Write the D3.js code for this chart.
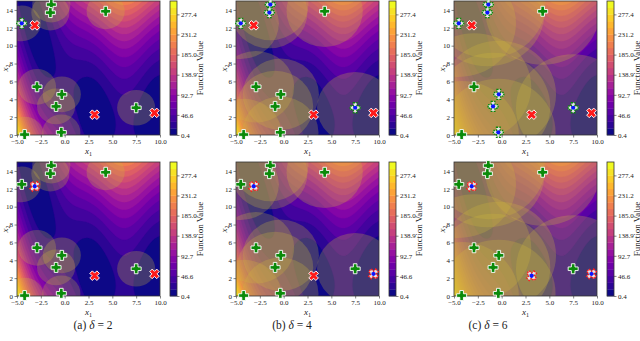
<!DOCTYPE html>
<html>
<head>
<meta charset="utf-8">
<script src="https://cdn.jsdelivr.net/npm/d3@7"></script>
<style>
  body { margin: 0; background: #fff; }
  text { font-family: "Liberation Serif", "DejaVu Serif", serif; fill: #222; }
</style>
</head>
<body>
<div class="chart"></div>
<script>
// panel settings
var deltas = [2, 4, 6];
var panelLetters = ["(a)", "(b)", "(c)"];

// sampled points (green plus markers)
var sampleX1 = [-1.4, -1.5, 4.3, -4.5, -2.9, -0.3, -0.9, -4.2, -0.35, 7.5];
var sampleX2 = [14.6, 13.7, 13.85, 12.5, 5.4, 4.55, 3.2, 0.05, 0.3, 3.05];

// global minima (red X markers)
var minimaX1 = [-3.14, 3.14, 9.42];
var minimaX2 = [12.275, 2.275, 2.475];

// which markers get the blue centre, per column
var topHighlight = [[3], [0, 1, 3, 9], [0, 1, 3, 5, 6, 8, 9]];
var bottomHighlight = [[0], [0, 2], [0, 1, 2]];

// axes / colorbar ticks
var xTicks = [-5, -2.5, 0, 2.5, 5, 7.5, 10];
var yTicks = [0, 2, 4, 6, 8, 10, 12, 14];
var cbarTicks = [0.4, 46.6, 92.7, 138.9, 185.0, 231.2, 277.4];
var fMin = 0.3979, fMax = 308.13, nBands = 20;

// the plotted surface (Branin)
function branin(x1, x2) {
  var b = 5.1 / (4 * Math.PI * Math.PI), c = 5 / Math.PI, t = 1 / (8 * Math.PI);
  var q = x2 - b * x1 * x1 + c * x1 - 6;
  return q * q + 10 * (1 - t) * Math.cos(x1) + 10;
}

var svgWidth = 640, svgHeight = 341;
var svg = d3.select(".chart").append("svg")
  .attr("width", svgWidth).attr("height", svgHeight);

var colX = [17, 236, 454];
var rowY = [1, 162];
var pw = 143, ph = 134;

var levels = d3.range(nBands + 1).map(function(i) { return fMin + i * (fMax - fMin) / nBands; });
var bandColor = function(i) { return d3.interpolatePlasma(i / (nBands - 1)); };

// grid of values
var nx = 151, ny = 151;
var grid = new Array(nx * ny);
for (var j = 0; j < ny; j++) {
  for (var i = 0; i < nx; i++) {
    var gx1 = -5 + i * 15 / (nx - 1);
    var gx2 = 15 - j * 15 / (ny - 1);
    grid[j * nx + i] = branin(gx1, gx2);
  }
}
var contours = d3.contours().size([nx, ny]).thresholds(levels.slice(0, nBands))(grid);

function plusPath(h, t) {
  return "M" + (-t) + "," + (-h) + "H" + t + "V" + (-t) + "H" + h + "V" + t + "H" + t +
    "V" + h + "H" + (-t) + "V" + t + "H" + (-h) + "V" + (-t) + "H" + (-t) + "Z";
}

var clipId = 0;
function drawPanel(col, row) {
  var x0 = colX[col], y0 = rowY[row];
  var x = d3.scaleLinear().domain([-5, 10]).range([x0, x0 + pw]);
  var y = d3.scaleLinear().domain([0, 15]).range([y0 + ph, y0]);
  var delta = deltas[col];

  var id = "clip" + (clipId++);
  svg.append("clipPath").attr("id", id).append("rect")
    .attr("x", x0).attr("y", y0).attr("width", pw).attr("height", ph);

  var g = svg.append("g").attr("clip-path", "url(#" + id + ")");
  var proj = d3.geoTransform({
    point: function(gx, gy) {
      this.stream.point(x(-5 + (gx - 0.5) * 15 / (nx - 1)), y(15 - (gy - 0.5) * 15 / (ny - 1)));
    }
  });
  var path = d3.geoPath(proj);
  g.selectAll("path.band").data(contours).enter().append("path")
    .attr("class", "band")
    .attr("d", path)
    .attr("fill", function(d, i) { return bandColor(i); })
    .attr("stroke", function(d, i) { return bandColor(i); })
    .attr("stroke-width", 0.3);

  // trust-region circles
  g.selectAll("ellipse").data(d3.range(sampleX1.length)).enter().append("ellipse")
    .attr("cx", function(i) { return x(sampleX1[i]); })
    .attr("cy", function(i) { return y(sampleX2[i]); })
    .attr("rx", function() { return x(delta) - x(0); })
    .attr("ry", function() { return y(0) - y(delta); })
    .attr("fill", "#cfb83a")
    .attr("fill-opacity", 0.27);

  svg.append("rect").attr("x", x0).attr("y", y0).attr("width", pw).attr("height", ph)
    .attr("fill", "none").attr("stroke", "#333").attr("stroke-width", 0.8);

  // axes
  var xAxis = svg.append("g").attr("transform", "translate(0," + (y0 + ph) + ")")
    .call(d3.axisBottom(x).tickValues(xTicks).tickFormat(d3.format(".1f")).tickSize(2.5).tickPadding(1.5));
  var yAxis = svg.append("g").attr("transform", "translate(" + x0 + ",0)")
    .call(d3.axisLeft(y).tickValues(yTicks).tickFormat(d3.format("d")).tickSize(2.5).tickPadding(1.5));
  [xAxis, yAxis].forEach(function(a) {
    a.select(".domain").remove();
    a.selectAll("line").attr("stroke", "#333").attr("stroke-width", 0.6);
    a.selectAll("text").attr("font-size", 7).attr("fill", "#333")
      .style("font-family", "'Liberation Serif', serif");
  });
  xAxis.selectAll("text").text(function(d) { return d3.format(".1f")(d).replace("-", "\u2212"); });

  var xl = svg.append("text").attr("x", x0 + pw / 2).attr("y", y0 + ph + 19)
    .attr("text-anchor", "middle").attr("font-size", 9).style("font-style", "italic").text("x");
  xl.append("tspan").attr("font-size", 6).attr("dy", 2).style("font-style", "normal").text("1");
  var yl = svg.append("text").attr("transform", "translate(" + (x0 - 9.5) + "," + (y0 + ph / 2) + ") rotate(-90)")
    .attr("text-anchor", "middle").attr("font-size", 9).style("font-style", "italic").text("x");
  yl.append("tspan").attr("font-size", 6).attr("dy", 2).style("font-style", "normal").text("2");

  // colorbar
  var cx = x0 + pw + 10, cw = 7;
  var cy = d3.scaleLinear().domain([fMin, fMax]).range([y0 + ph, y0]);
  svg.selectAll(null).data(d3.range(nBands)).enter().append("rect")
    .attr("x", cx).attr("width", cw)
    .attr("y", function(i) { return cy(levels[i + 1]); })
    .attr("height", function(i) { return cy(levels[i]) - cy(levels[i + 1]) + 0.3; })
    .attr("fill", function(i) { return bandColor(i); });
  svg.append("rect").attr("x", cx).attr("y", y0).attr("width", cw).attr("height", ph)
    .attr("fill", "none").attr("stroke", "#333").attr("stroke-width", 0.8);
  var cAxis = svg.append("g").attr("transform", "translate(" + (cx + cw) + ",0)")
    .call(d3.axisRight(cy).tickValues(cbarTicks).tickFormat(d3.format(".1f")).tickSize(2.5).tickPadding(1.5));
  cAxis.select(".domain").remove();
  cAxis.selectAll("line").attr("stroke", "#333").attr("stroke-width", 0.6);
  cAxis.selectAll("text").attr("font-size", 7).attr("fill", "#333")
    .style("font-family", "'Liberation Serif', serif");
  svg.append("text").attr("transform", "translate(" + (cx + 33) + "," + (y0 + ph / 2) + ") rotate(-90)")
    .attr("text-anchor", "middle").attr("font-size", 9).text("Function Value");

  // markers
  var hiS = row === 0 ? topHighlight[col] : [];
  var hiM = row === 1 ? bottomHighlight[col] : [];
  var mk = svg.append("g");
  sampleX1.forEach(function(v, i) {
    drawMarker(mk, x(v), y(sampleX2[i]), 0, "#0a8a0a", hiS.indexOf(i) >= 0);
  });
  minimaX1.forEach(function(v, i) {
    drawMarker(mk, x(v), y(minimaX2[i]), 45, "#ff1a1a", hiM.indexOf(i) >= 0);
  });
}

function drawMarker(g, px, py, rot, color, hi) {
  var m = g.append("g").attr("transform", "translate(" + px + "," + py + ") rotate(" + rot + ")");
  if (!hi) {
    m.append("path").attr("d", plusPath(5, 1.8))
      .attr("fill", color).attr("stroke", "#fff").attr("stroke-width", 0.9);
  } else {
    m.append("path").attr("d", plusPath(5, 1.8))
      .attr("fill", "#e6e6e6").attr("stroke", color).attr("stroke-width", 1.4)
      .attr("stroke-dasharray", "1.6,1.2");
    m.append("circle").attr("r", 2.1).attr("fill", "#0a14ff");
  }
}

for (var r = 0; r < 2; r++) {
  for (var c = 0; c < 3; c++) drawPanel(c, r);
}

// captions
var capX = [93, 292, 488];
capX.forEach(function(cxp, i) {
  var t = svg.append("text").attr("x", cxp).attr("y", 329).attr("text-anchor", "middle")
    .attr("font-size", 11.5).text(panelLetters[i] + " ");
  t.append("tspan").style("font-style", "italic").text("\u03b4");
  t.append("tspan").text(" = " + deltas[i]);
});
</script>
</body>
</html>
